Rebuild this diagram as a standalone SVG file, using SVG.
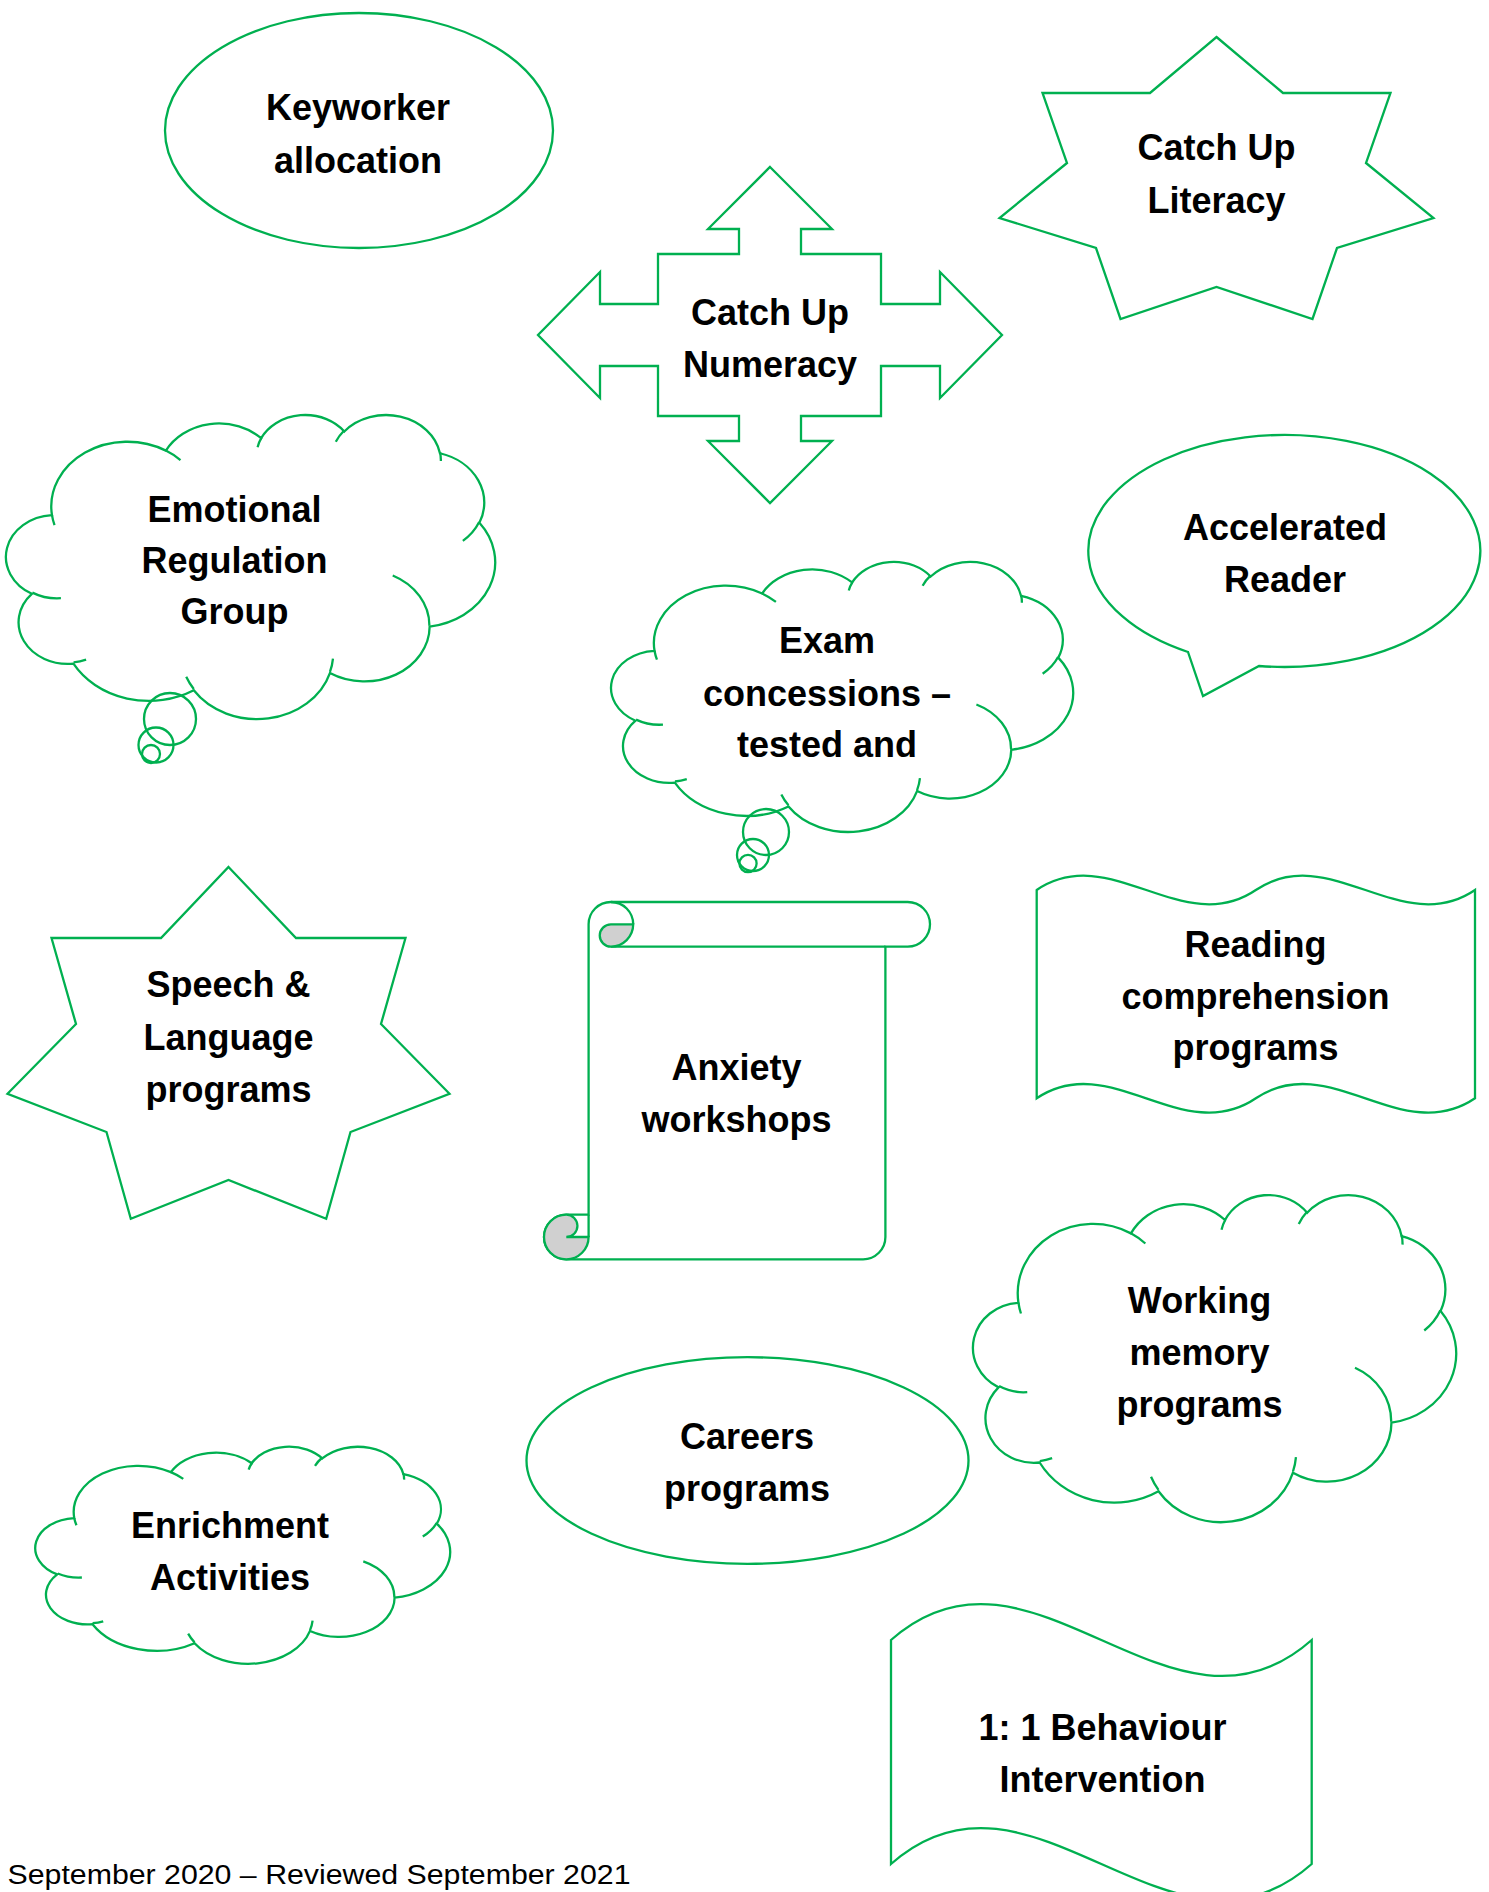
<svg xmlns="http://www.w3.org/2000/svg" xmlns:xlink="http://www.w3.org/1999/xlink" width="1489" height="1892" viewBox="0 0 1489 1892">
<style>
.s{fill:#fff;stroke:#00B050;stroke-width:2.3;stroke-linejoin:miter}
.n{fill:none;stroke:#00B050;stroke-width:2.3}
.g{fill:#D0D0D0;stroke:#00B050;stroke-width:2.3}
.cl{fill:#fff;stroke:#00B050;stroke-width:2.3;vector-effect:non-scaling-stroke}
.cc{fill:none;stroke:#00B050;stroke-width:2.3;vector-effect:non-scaling-stroke}
.t{font-family:"Liberation Sans","DejaVu Sans",Arial,sans-serif;font-weight:bold;font-size:36px;text-anchor:middle;fill:#000}
.f{font-family:"Liberation Sans","DejaVu Sans",Arial,sans-serif;font-size:27px;fill:#000}
</style>
<defs>
<path id="cloudBody" class="cl" d="M3900 14370 A6753 9190 0 0 1 14005 5203 A5333 7267 0 0 1 22456 3433 A4365 5945 0 0 1 29833 2481 A4857 6595 0 0 1 38318 5577 A5333 7273 0 0 1 41818 15461 A6775 9220 0 0 1 37404 30204 A5785 7867 0 0 1 28556 36815 A6752 9215 0 0 1 16481 39266 A7720 10543 0 0 1 5806 35472 A4360 5918 0 0 1 2115 25550 A4345 5945 0 0 1 3900 14370 Z"/>
<path id="cloudCurls" class="cc" d="M4693 26177 A4345 5945 0 0 1 2160 25380 M6928 34899 A4360 5918 0 0 1 5819 35281 M16478 39090 A6752 9215 0 0 1 15810 37350 M28827 34751 A6752 9215 0 0 1 28560 36660 M34129 22954 A5785 7867 0 0 1 37380 30089 M41798 15354 A5333 7273 0 0 1 40350 18030 M38324 5426 A4857 6595 0 0 1 38400 6690 M29078 3952 A4857 6595 0 0 1 29820 2340 M22141 4720 A4365 5945 0 0 1 22500 3330 M14000 5192 A6753 9190 0 0 1 15300 6540 M4127 15789 A6753 9190 0 0 1 3901 14370"/>
</defs>
<rect width="1489" height="1892" fill="#fff"/>
<g id="connectors"></g>

<g id="keyworker">
<ellipse class="s" cx="359" cy="130.5" rx="194" ry="117.5"/>
<text class="t" x="358" y="120">Keyworker</text>
<text class="t" x="358" y="173">allocation</text>
</g>

<g id="catch-up-numeracy">
<polygon class="s" points="770,167 832,229 801,229 801,254 881,254 881,304 940,304 940,272 1002,335 940,398 940,366 881,366 881,416 801,416 801,441 832,441 770,503 708,441 739,441 739,416 658,416 658,366 600,366 600,398 538,335 600,272 600,304 658,304 658,254 739,254 739,229 708,229"/>
<text class="t" x="770" y="325">Catch Up</text>
<text class="t" x="770" y="377">Numeracy</text>
</g>

<g id="catch-up-literacy">
<polygon class="s" points="1216.5,37 1283,93 1390.5,93 1366,163 1433.5,218 1337,248 1312.5,319 1216.5,287 1120.5,319 1096,248 999.5,218 1067,163 1042.5,93 1150,93"/>
<text class="t" x="1216.5" y="160">Catch Up</text>
<text class="t" x="1216.5" y="213">Literacy</text>
</g>

<g id="emotional-regulation">
<g transform="translate(8,414) scale(0.011273,0.007037)">
<use xlink:href="#cloudBody"/>
<use xlink:href="#cloudCurls"/>
</g>
<circle class="n" cx="170" cy="719" r="26"/>
<circle class="n" cx="156" cy="745" r="17.5"/>
<circle class="n" cx="151" cy="754" r="9"/>
<text class="t" x="234.5" y="521.7">Emotional</text>
<text class="t" x="234.5" y="572.7">Regulation</text>
<text class="t" x="234.5" y="624">Group</text>
</g>

<g id="accelerated-reader">
<path class="s" d="M1188 652 L1203 696 L1259 666 A196 116 0 1 0 1188 652 Z"/>
<text class="t" x="1285" y="540">Accelerated</text>
<text class="t" x="1285" y="592">Reader</text>
</g>

<g id="exam-concessions">
<g transform="translate(613,561) scale(0.010648,0.00625)">
<use xlink:href="#cloudBody"/>
<use xlink:href="#cloudCurls"/>
</g>
<circle class="n" cx="766" cy="832" r="23"/>
<circle class="n" cx="753" cy="855" r="16"/>
<circle class="n" cx="748" cy="863.5" r="8.6"/>
<text class="t" x="827" y="653.3">Exam</text>
<text class="t" x="827" y="706">concessions –</text>
<text class="t" x="827" y="756.7">tested and</text>
</g>

<g id="speech-language">
<polygon class="s" points="228.5,867 296,938 405.5,938 381,1024 449.5,1093.7 350.5,1132 326.2,1218.7 228.5,1180 130.8,1218.7 106.5,1132 7.5,1093.7 76,1024 51.5,938 161,938"/>
<text class="t" x="228.5" y="996.7">Speech &amp;</text>
<text class="t" x="228.5" y="1050">Language</text>
<text class="t" x="228.5" y="1101.7">programs</text>
</g>

<g id="anxiety-workshops">
<path class="s" d="M588.6 924.3 A22.3 22.3 0 0 1 610.9 902 L907.7 902 A22.3 22.3 0 0 1 907.7 946.6 L885.4 946.6 L885.4 1237 A22.3 22.3 0 0 1 863.1 1259.3 L566.3 1259.3 A22.3 22.3 0 0 1 566.3 1214.7 L588.6 1214.7 Z"/>
<path class="n" d="M885.4 946.6 L610.9 946.6 M610.9 902 A22.3 22.3 0 0 1 633.2 924.3 M588.6 1214.7 L588.6 1237"/>
<path class="g" d="M610.9 924.3 L633.2 924.3 A22.3 22.3 0 0 1 610.9 946.6 A11.15 11.15 0 0 1 610.9 924.3 Z"/>
<path class="g" d="M566.3 1214.7 A11.15 11.15 0 0 1 566.3 1237 L588.6 1237 A22.3 22.3 0 0 1 566.3 1259.3 A22.3 22.3 0 0 1 566.3 1214.7 Z"/>
<text class="t" x="736.5" y="1080">Anxiety</text>
<text class="t" x="736.5" y="1131.7">workshops</text>
</g>

<g id="reading-comprehension">
<path class="s" d="M1036.7 890 C1109.75 840.4 1182.8 939.6 1255.85 890 C1328.9 840.4 1401.95 939.6 1475 890 L1475 1098.3 C1401.95 1147.9 1328.9 1048.7 1255.85 1098.3 C1182.8 1147.9 1109.75 1048.7 1036.7 1098.3 Z"/>
<text class="t" x="1255.5" y="956.7">Reading</text>
<text class="t" x="1255.5" y="1009.3">comprehension</text>
<text class="t" x="1255.5" y="1060">programs</text>
</g>

<g id="working-memory">
<g transform="translate(975,1194) scale(0.011134,0.0075694)">
<use xlink:href="#cloudBody"/>
<use xlink:href="#cloudCurls"/>
</g>
<text class="t" x="1199.5" y="1312.7">Working</text>
<text class="t" x="1199.5" y="1365">memory</text>
<text class="t" x="1199.5" y="1417.3">programs</text>
</g>

<g id="careers">
<ellipse class="s" cx="747.5" cy="1460.5" rx="221" ry="103.3"/>
<text class="t" x="747" y="1449.4">Careers</text>
<text class="t" x="747" y="1501.3">programs</text>
</g>

<g id="enrichment">
<g transform="translate(37,1446) scale(0.0095602,0.0050231)">
<use xlink:href="#cloudBody"/>
<use xlink:href="#cloudCurls"/>
</g>
<text class="t" x="230" y="1538">Enrichment</text>
<text class="t" x="230" y="1590">Activities</text>
</g>

<g id="behaviour-intervention">
<path class="s" d="M891 1640 C1031.2 1515.3 1171.5 1764.7 1311.7 1640 L1311.7 1864 C1171.5 1988.7 1031.2 1739.3 891 1864 Z"/>
<text class="t" x="1102.5" y="1740">1: 1 Behaviour</text>
<text class="t" x="1102.5" y="1792.3">Intervention</text>
</g>

<g id="footer">
<text class="f" x="7.5" y="1884" textLength="623" lengthAdjust="spacingAndGlyphs">September 2020 – Reviewed September 2021</text>
</g>
</svg>
